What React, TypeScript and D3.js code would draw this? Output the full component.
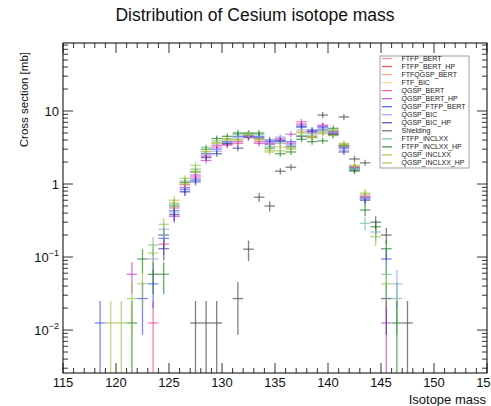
import React from "react";
import * as d3 from "d3";

// Isotope mass bins (lower edge; points are drawn at bin centre m + 0.5)
const masses = [118,119,120,121,122,123,124,125,126,127,128,129,130,131,132,133,134,135,136,137,138,139,140,141,142,143,144,145,146,147];

const seriesNames = [
  "FTFP_BERT","FTFP_BERT_HP","FTFQGSP_BERT","FTF_BIC","QGSP_BERT","QGSP_BERT_HP","QGSP_FTFP_BERT",
  "QGSP_BIC","QGSP_BIC_HP","Shielding","FTFP_INCLXX","FTFP_INCLXX_HP","QGSP_INCLXX","QGSP_INCLXX_HP",
];
const seriesColors = [
  "#ff7777","#e03333","#ff9966","#ffcc77","#ff3399","#bb33cc","#3344ff",
  "#8f96ff","#333399","#555555","#5fbf88","#1a7a1a","#8cc63f","#b3b340",
];

const _ = null;
// values [mb] per mass bin 118..147
const FTFP_BERT: (number|null)[]      = [_,_,_,_,_,_,_,_,_,_,_,_,_,_,_,_,_,_,_,_,_,_,_,_,_,_,_,_,_,_];
const FTFP_BERT_HP: (number|null)[]   = [_,_,_,_,_,_,_,_,_,_,_,_,_,_,_,_,_,_,_,_,_,_,_,_,_,_,_,_,_,_];
const FTFQGSP_BERT: (number|null)[]   = [_,_,_,_,_,_,_,_,_,_,_,_,_,_,_,_,_,_,_,_,_,_,_,_,_,_,_,_,_,_];
const FTF_BIC: (number|null)[]        = [_,_,_,_,_,_,_,_,_,_,_,_,_,_,_,_,_,_,_,_,_,_,_,_,_,_,_,_,_,_];
const QGSP_BERT: (number|null)[]      = [_,_,_,_,_,0.0125,0.15,0.47,0.98,1.25,2.4,3.2,3.4,3.6,4.3,3.8,3.6,4.2,3.6,7.1,5.2,6.4,5.1,3.3,1.7,0.66,_,_,_,_];
const QGSP_BERT_HP: (number|null)[]   = [_,_,_,0.058,_,_,0.2,0.36,0.9,1.33,2.1,3.4,3.5,3.8,4.5,3.6,3.5,3.8,4.8,6.6,5.0,6.2,4.9,3.2,1.72,0.68,_,0.0125,_,_];
const QGSP_FTFP_BERT: (number|null)[] = [0.0125,_,_,_,0.027,0.043,0.18,0.43,0.85,1.17,2.6,3.0,3.8,4.5,4.6,4.5,3.8,4.0,3.8,6.0,5.5,6.0,5.2,3.1,1.65,0.64,_,0.094,_,_];
const QGSP_BIC: (number|null)[]       = [_,_,_,_,_,0.094,0.24,0.40,0.8,1.05,2.5,2.8,3.7,4.3,4.5,4.2,3.7,4.4,3.5,5.5,5.1,5.8,5.0,2.9,1.6,0.62,0.22,_,0.043,_];
const QGSP_BIC_HP: (number|null)[]    = [_,_,_,_,_,_,0.13,0.38,0.78,1.1,2.3,2.6,3.6,3.1,4.4,4.3,4.0,3.9,3.3,6.2,5.3,5.5,4.8,2.75,1.55,0.6,_,0.027,_,_];
const Shielding: (number|null)[]      = [_,_,_,_,_,_,_,_,_,0.0125,0.0125,0.0125,_,0.027,0.128,0.66,0.5,1.5,1.7,4.5,4.4,8.8,4.7,8.3,2.2,1.95,0.3,0.2,_,0.0125];
const FTFP_INCLXX: (number|null)[]    = [_,_,_,_,_,0.146,0.2,0.53,1.1,1.6,3.2,3.9,4.2,4.8,4.9,4.8,3.3,3.6,3.2,4.6,4.7,5.2,5.5,3.3,1.6,0.29,_,0.058,0.027,_];
const FTFP_INCLXX_HP: (number|null)[] = [_,_,_,0.0125,0.094,0.058,0.058,0.5,1.05,1.46,3.0,4.2,4.5,5.0,5.0,5.0,3.1,2.6,2.75,4.1,3.8,3.9,5.8,3.4,1.5,0.44,0.26,0.13,0.0125,_];
const QGSP_INCLXX: (number|null)[]    = [_,_,0.0125,0.027,0.043,0.113,0.28,0.6,1.2,1.8,2.8,3.7,4.0,4.1,4.8,4.1,2.75,2.85,3.0,5.0,4.3,5.0,4.6,3.6,1.8,0.75,0.19,0.043,_,_];
const QGSP_INCLXX_HP: (number|null)[] = [_,0.0125,_,_,_,_,_,0.55,1.0,1.5,2.75,3.6,4.1,4.0,4.7,4.0,2.9,3.2,3.1,5.2,4.5,4.9,5.4,3.5,1.75,0.72,_,_,_,_];

const seriesValues = [
  FTFP_BERT,FTFP_BERT_HP,FTFQGSP_BERT,FTF_BIC,QGSP_BERT,QGSP_BERT_HP,QGSP_FTFP_BERT,
  QGSP_BIC,QGSP_BIC_HP,Shielding,FTFP_INCLXX,FTFP_INCLXX_HP,QGSP_INCLXX,QGSP_INCLXX_HP,
];

// cross section corresponding to one entry (Poisson errors)
const unitXS = 0.0125;

const xTickLabels = [115,120,125,130,135,140,145,150,155];
const yDecades = [-2,-1,0,1];

const W = 491, H = 406;
const L = 63, R = 487, T = 43, B = 373;
const FONT = "'Liberation Sans', Arial, Helvetica, sans-serif";

export default function App() {
  const x = d3.scaleLinear().domain([115, 155]).range([L, R]);
  const y = d3.scaleLog().domain([0.00258, 85.4]).range([B, T]);

  const xMinor = d3.range(115, 156, 1);
  const yTicks: { v: number; major: boolean }[] = [];
  for (let dd = -3; dd <= 1; dd++) {
    for (let k = 1; k <= 9; k++) {
      const v = k * Math.pow(10, dd);
      if (v >= 0.00258 && v <= 85.4) yTicks.push({ v, major: k === 1 });
    }
  }

  const marks: JSX.Element[] = [];
  seriesValues.forEach((vals, si) => {
    const col = seriesColors[si];
    vals.forEach((v, i) => {
      if (v == null) return;
      const m = masses[i] + 0.5;
      const e = Math.sqrt(v * unitXS);
      const cx = x(m);
      const cy = y(v);
      let yTop = y(v + e);
      let yBot = v - e > 0.00258 ? y(v - e) : B;
      if (cy - yTop < 3) yTop = cy - 3;
      if (yBot - cy < 3) yBot = cy + 3;
      marks.push(
        <g key={`${si}-${i}`} stroke={col} strokeOpacity={si === 9 ? 0.75 : 0.65} strokeWidth={1.3}>
          <line x1={x(m - 0.5)} x2={x(m + 0.5)} y1={cy} y2={cy} />
          <line x1={cx} x2={cx} y1={yTop} y2={yBot} />
        </g>
      );
    });
  });

  const legX = 380, legY = 56, legW = 89, legH = 112;

  return (
    <svg width={W} height={H} style={{ position: "absolute", left: 0, top: 0, background: "#fff" }} fontFamily={FONT}>
      <rect x={0} y={0} width={W} height={H} fill="#fff" />
      <text x={255} y={21} textAnchor="middle" fontSize={17.5} fill="#111">Distribution of Cesium isotope mass</text>

      <defs>
        <clipPath id="frame"><rect x={L} y={T} width={R - L} height={B - T} /></clipPath>
      </defs>

      <g clipPath="url(#frame)">{marks}</g>

      <g stroke="#000" strokeWidth={0.8}>
        {xMinor.map((m) => {
          const len = m % 5 === 0 ? 10 : 5;
          return (
            <g key={`xt${m}`}>
              <line x1={x(m)} x2={x(m)} y1={B} y2={B - len} />
              <line x1={x(m)} x2={x(m)} y1={T} y2={T + len} />
            </g>
          );
        })}
        {yTicks.map((t, i) => {
          const len = t.major ? 10 : 5;
          return (
            <g key={`yt${i}`}>
              <line x1={L} x2={L + len} y1={y(t.v)} y2={y(t.v)} />
              <line x1={R} x2={R - len} y1={y(t.v)} y2={y(t.v)} />
            </g>
          );
        })}
      </g>
      <rect x={L} y={T} width={R - L} height={B - T} fill="none" stroke="#000" strokeWidth={1} />

      {xTickLabels.map((m) => (
        <text key={`xl${m}`} x={x(m)} y={387} textAnchor="middle" fontSize={13} fill="#111">{m}</text>
      ))}
      <text x={R - 1} y={404} textAnchor="end" fontSize={13} fill="#111">Isotope mass</text>

      {yDecades.map((d) => {
        const yy = y(Math.pow(10, d)) + 4.5;
        if (d === 0) return <text key="yl0" x={59} y={yy} textAnchor="end" fontSize={13} fill="#111">1</text>;
        if (d === 1) return <text key="yl1" x={59} y={yy} textAnchor="end" fontSize={13} fill="#111">10</text>;
        return (
          <text key={`yl${d}`} x={59} y={yy} textAnchor="end" fontSize={13} fill="#111">
            10<tspan fontSize={9} dy={-6}>{`\u2212${-d}`}</tspan>
          </text>
        );
      })}
      <text transform={`translate(28,52) rotate(-90)`} textAnchor="end" fontSize={11.5} fill="#111">Cross section [mb]</text>

      <rect x={legX} y={legY} width={legW} height={legH} fill="#fff" stroke="#888" strokeWidth={0.8} />
      {seriesNames.map((n, i) => {
        const yy = 58.5 + i * 8.03;
        return (
          <g key={`lg${i}`}>
            <line x1={382} x2={392} y1={yy} y2={yy} stroke={seriesColors[i]} strokeWidth={1.3} strokeOpacity={0.8} />
            <text x={401.5} y={yy + 2.4} fontSize={7} fill="#222">{n}</text>
          </g>
        );
      })}
    </svg>
  );
}
